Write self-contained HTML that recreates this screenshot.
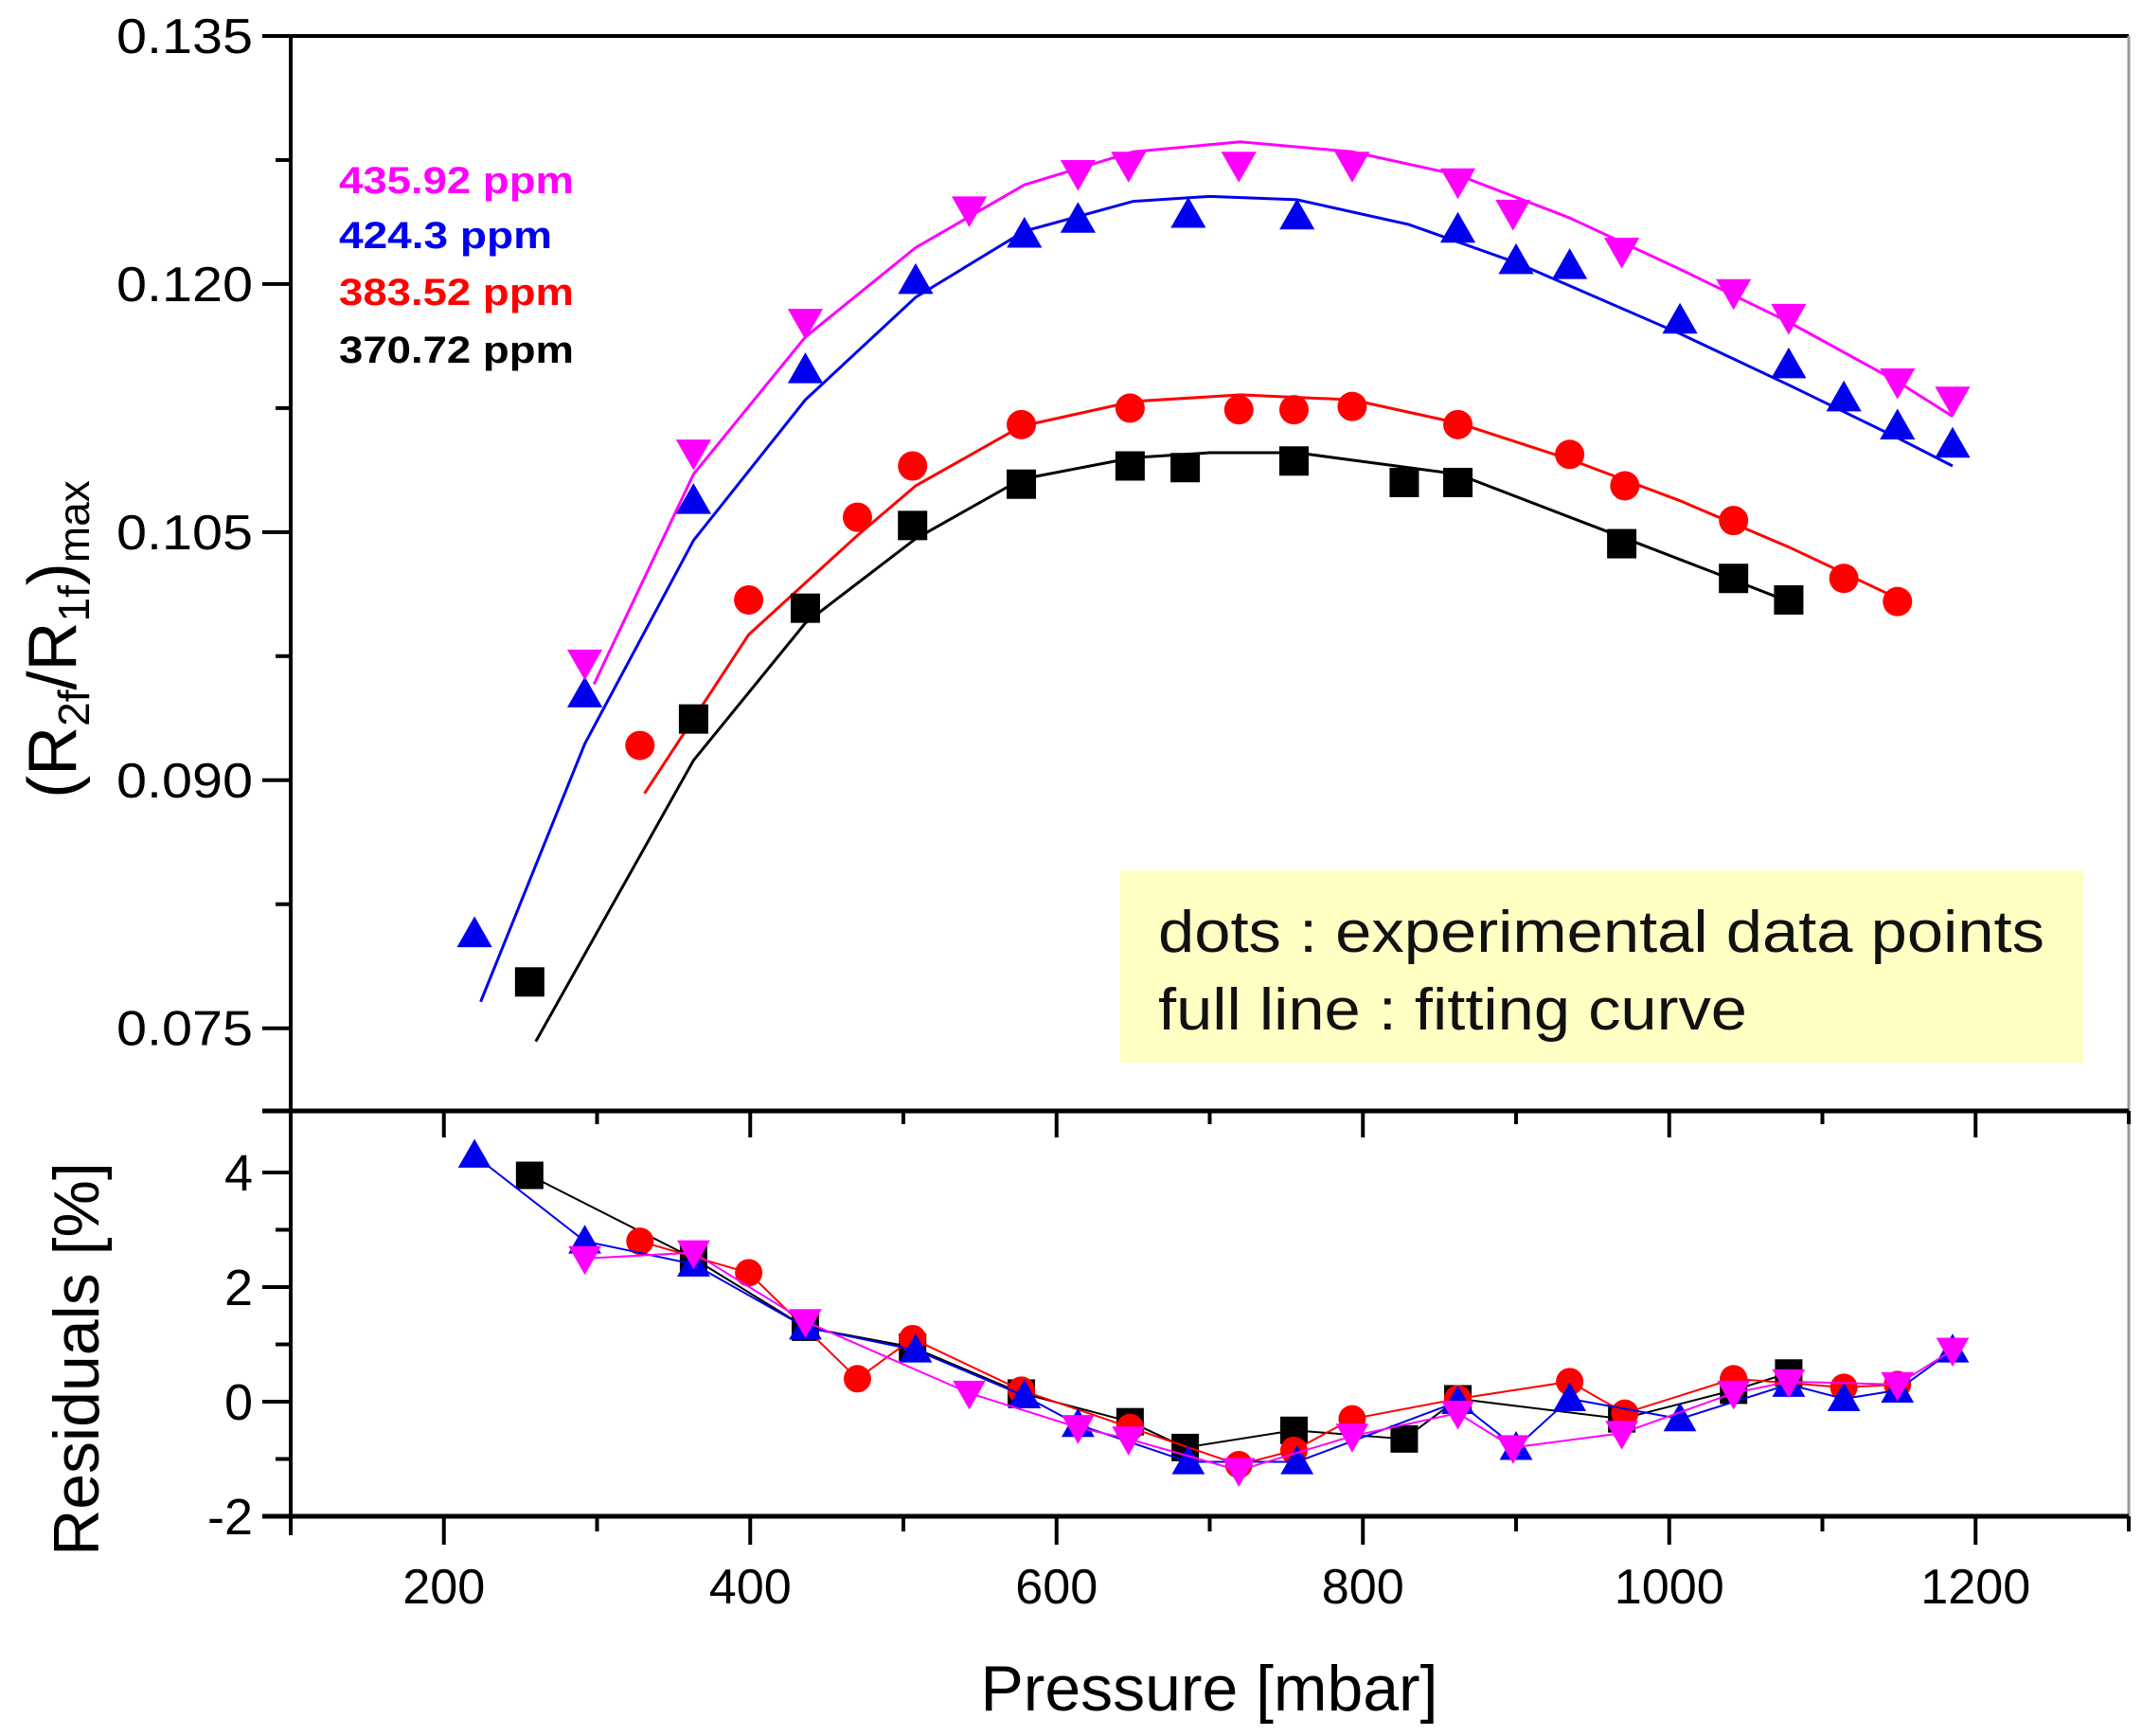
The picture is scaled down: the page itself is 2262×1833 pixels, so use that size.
<!DOCTYPE html>
<html><head><meta charset="utf-8">
<style>
html,body{margin:0;padding:0;background:#fff;}
svg{display:block;font-family:"Liberation Sans",Arial,sans-serif;}
</style></head>
<body>
<svg id="chart" width="2262" height="1833" viewBox="0 0 2262 1833" xmlns="http://www.w3.org/2000/svg">
<g id="frame"></g>
<g id="fits"></g>
<g id="marks"></g>
<g id="resid"></g>
<rect x="1183" y="919" width="1017" height="203" fill="#ffffc4"/>
<text x="1223" y="1005" font-size="62" textLength="936" lengthAdjust="spacingAndGlyphs" fill="#111">dots : experimental data points</text>
<text x="1223" y="1087" font-size="62" textLength="622" lengthAdjust="spacingAndGlyphs" fill="#111">full line : fitting curve</text>
<text x="358" y="204" font-size="40" textLength="248" lengthAdjust="spacingAndGlyphs" font-weight="bold" fill="#ff00ff">435.92 ppm</text>
<text x="358" y="262" font-size="40" textLength="225" lengthAdjust="spacingAndGlyphs" font-weight="bold" fill="#0000ee">424.3 ppm</text>
<text x="358" y="322" font-size="40" textLength="248" lengthAdjust="spacingAndGlyphs" font-weight="bold" fill="#ff0000">383.52 ppm</text>
<text x="358" y="383" font-size="40" textLength="248" lengthAdjust="spacingAndGlyphs" font-weight="bold" fill="#000">370.72 ppm</text>
<text x="1277" y="1806" font-size="68" textLength="483" lengthAdjust="spacingAndGlyphs" text-anchor="middle">Pressure [mbar]</text>
<text transform="translate(80,675) rotate(-90)" font-size="72" text-anchor="middle">(R<tspan font-size="46" dy="14">2f</tspan><tspan dy="-14">/R</tspan><tspan font-size="46" dy="14">1f</tspan><tspan dy="-14">)</tspan><tspan font-size="46" dy="14">max</tspan></text>
<text transform="translate(104,1435) rotate(-90)" font-size="68" text-anchor="middle">Residuals [%]</text>
</svg>
<script>
// ---- data ----
const magX=[292,363,436,543,614,647,719,793,862,898,969,1042,1078,1149,1185];
const magY=[0.0971,0.1098,0.1177,0.1245,0.1267,0.1272,0.1272,0.1272,0.1262,0.1243,0.1220,0.1195,0.1180,0.1141,0.1130];
const magR=[2.5,2.6,1.4,0.15,-0.45,-0.65,-1.2,-0.6,-0.2,-0.8,-0.55,0.15,0.35,0.3,0.9];
const bluX=[220,292,363,436,508,579,614,686,757,862,900,935,1007,1078,1114,1149,1185];
const bluY=[0.0807,0.0952,0.1069,0.1148,0.1202,0.1230,0.1239,0.1242,0.1241,0.1233,0.1214,0.1211,0.1178,0.1151,0.1131,0.1114,0.1103];
const bluR=[4.3,2.8,2.4,1.3,0.9,0.1,-0.4,-1.05,-1.05,0.0,-0.8,0.05,-0.3,0.3,0.05,0.2,0.9];
const redX=[328,399,470,506,577,648,719,755,793,862,935,971,1042,1114,1149];
const redY=[0.0921,0.1009,0.1059,0.1090,0.1115,0.1125,0.1124,0.1124,0.1126,0.1115,0.1097,0.1078,0.1057,0.1022,0.1008];
const redR=[2.8,2.25,0.4,1.1,0.2,-0.45,-1.1,-0.85,-0.3,0.05,0.35,-0.2,0.4,0.25,0.3];
const blkX=[256,363,436,506,577,648,684,755,827,862,969,1042,1078];
const blkY=[0.0778,0.0937,0.1004,0.1054,0.1079,0.1090,0.1089,0.1093,0.1080,0.1080,0.1043,0.1022,0.1009];
const blkR=[3.95,2.5,1.3,0.95,0.15,-0.35,-0.8,-0.5,-0.65,0.05,-0.3,0.2,0.5];
const magFX=[298,363,436,508,579,650,720,793,862,935,1007,1078,1149,1185];
const magFY=[0.0958,0.1085,0.1168,0.1222,0.1260,0.1280,0.1286,0.1280,0.1266,0.1240,0.1209,0.1177,0.1141,0.1120];
const bluFX=[224,292,363,436,508,579,650,700,757,830,900,1007,1078,1149,1185];
const bluFY=[0.0766,0.0922,0.1045,0.1130,0.1192,0.1232,0.1250,0.1253,0.1251,0.1236,0.1213,0.1170,0.1139,0.1107,0.1090];
const redFX=[331,399,470,508,577,650,720,793,862,935,1007,1078,1149];
const redFY=[0.0892,0.0988,0.1048,0.1078,0.1114,0.1129,0.1133,0.1130,0.1116,0.1094,0.1069,0.1041,0.1010];
const blkFX=[260,363,436,508,577,650,700,757,862,969,1042,1078];
const blkFY=[0.0742,0.0912,0.0995,0.1046,0.1082,0.1095,0.1098,0.1098,0.1085,0.1047,0.1021,0.1008];
const xTicks=[200,400,600,800,1000,1200];
const yTicksTop=[0.075,0.090,0.105,0.120,0.135];
const yTicksRes=[-2,0,2,4];

// ---- scales ----
const X0=307,X1=2248,XMIN=100,XMAX=1300;
const sx=v=>X0+(v-XMIN)/(XMAX-XMIN)*(X1-X0);
const TY0=38,TY1=1173,TMIN=0.070,TMAX=0.135;
const sy=v=>TY1-(v-TMIN)/(TMAX-TMIN)*(TY1-TY0);
const RY1=1601,RMIN=-2;const RPX=(1601-1238)/6;
const sr=v=>RY1-(v-RMIN)*RPX;
const NS='http://www.w3.org/2000/svg';
function mk(p,tag,at){const e=document.createElementNS(NS,tag);for(const k in at)e.setAttribute(k,at[k]);p.appendChild(e);return e;}
const frame=document.getElementById('frame');
let e;
e=mk(frame,'line',{x1:X0,y1:TY0,x2:X1,y2:TY0,stroke:'#000','stroke-width':4});


e=mk(frame,'line',{x1:X1,y1:TY0,x2:X1,y2:RY1,stroke:'#999','stroke-width':3});


e=mk(frame,'line',{x1:X0,y1:TY0-2,x2:X0,y2:RY1+20,stroke:'#000','stroke-width':4});


e=mk(frame,'line',{x1:X0-30,y1:TY1,x2:X1,y2:TY1,stroke:'#000','stroke-width':5});


e=mk(frame,'line',{x1:X0-30,y1:RY1,x2:X1,y2:RY1,stroke:'#000','stroke-width':5});


for(let v=0.0750;v<=0.1351;v+=0.0075){const q=(v-0.075)/0.015;const maj=Math.abs(q-Math.round(q))<0.01;
 e=mk(frame,'line',{x1:X0-(maj?30:16),y1:sy(v),x2:X0,y2:sy(v),stroke:'#000','stroke-width':4});
 
 }
yTicksTop.forEach(v=>{e=mk(frame,'text',{x:X0-40,y:sy(v)+18,'font-size':52,textLength:144,lengthAdjust:'spacingAndGlyphs','text-anchor':'end'});e.textContent=v.toFixed(3);
 
 });
for(let v=-2;v<=4;v+=1){const maj=v%2===0;
 e=mk(frame,'line',{x1:X0-(maj?30:16),y1:sr(v),x2:X0,y2:sr(v),stroke:'#000','stroke-width':4});
 
 }
yTicksRes.forEach(v=>{e=mk(frame,'text',{x:X0-40,y:sr(v)+19,'font-size':54,'text-anchor':'end'});e.textContent=String(v);
 
 });
for(let v=100;v<=1300;v+=100){const maj=v%200===0;
 e=mk(frame,'line',{x1:sx(v),y1:RY1,x2:sx(v),y2:RY1+(maj?30:16),stroke:'#000','stroke-width':4});
 
 
 e=mk(frame,'line',{x1:sx(v),y1:TY1,x2:sx(v),y2:TY1+(maj?28:14),stroke:'#000','stroke-width':4});
 
 }
xTicks.forEach(v=>{const s=String(v);e=mk(frame,'text',{x:sx(v),y:RY1+92,'font-size':52,textLength:s.length*29,lengthAdjust:'spacingAndGlyphs','text-anchor':'middle'});e.textContent=s;
 
 });

function marker(g,shape,cx,cy,col,s){
 let el;
 if(shape==='sq')el=mk(g,'rect',{x:cx-s/2,y:cy-s/2,width:s,height:s,fill:col});
 else if(shape==='ci')el=mk(g,'circle',{cx:cx,cy:cy,r:s/2,fill:col});
 else if(shape==='up')el=mk(g,'polygon',{points:`${cx},${cy-s*0.6} ${cx-s*0.6},${cy+s*0.45} ${cx+s*0.6},${cy+s*0.45}`,fill:col});
 else el=mk(g,'polygon',{points:`${cx},${cy+s*0.6} ${cx-s*0.6},${cy-s*0.45} ${cx+s*0.6},${cy-s*0.45}`,fill:col});
 return el;}
const series=[
 {n:'370-72-ppm',c:'#000',s:'sq',x:blkX,y:blkY,r:blkR,fx:blkFX,fy:blkFY},
 {n:'383-52-ppm',c:'#ff0000',s:'ci',x:redX,y:redY,r:redR,fx:redFX,fy:redFY},
 {n:'424-3-ppm',c:'#0000ee',s:'up',x:bluX,y:bluY,r:bluR,fx:bluFX,fy:bluFY},
 {n:'435-92-ppm',c:'#ff00ff',s:'dn',x:magX,y:magY,r:magR,fx:magFX,fy:magFY}];
const fits=document.getElementById('fits'),marks=document.getElementById('marks'),resid=document.getElementById('resid');
series.forEach(S=>{
 e=mk(fits,'polyline',{points:S.fx.map((v,i)=>sx(v)+','+sy(S.fy[i])).join(' '),fill:'none',stroke:S.c,'stroke-width':3});
 
 
 S.x.forEach((v,i)=>{e=marker(marks,S.s,sx(v),sy(S.y[i]),S.c,31);
  
  });
 e=mk(resid,'polyline',{points:S.x.map((v,i)=>sx(v)+','+sr(S.r[i])).join(' '),fill:'none',stroke:S.c,'stroke-width':2});
 
 
 S.x.forEach((v,i)=>{e=marker(resid,S.s,sx(v),sr(S.r[i]),S.c,29);
  
  });
});
</script>
</body></html>
